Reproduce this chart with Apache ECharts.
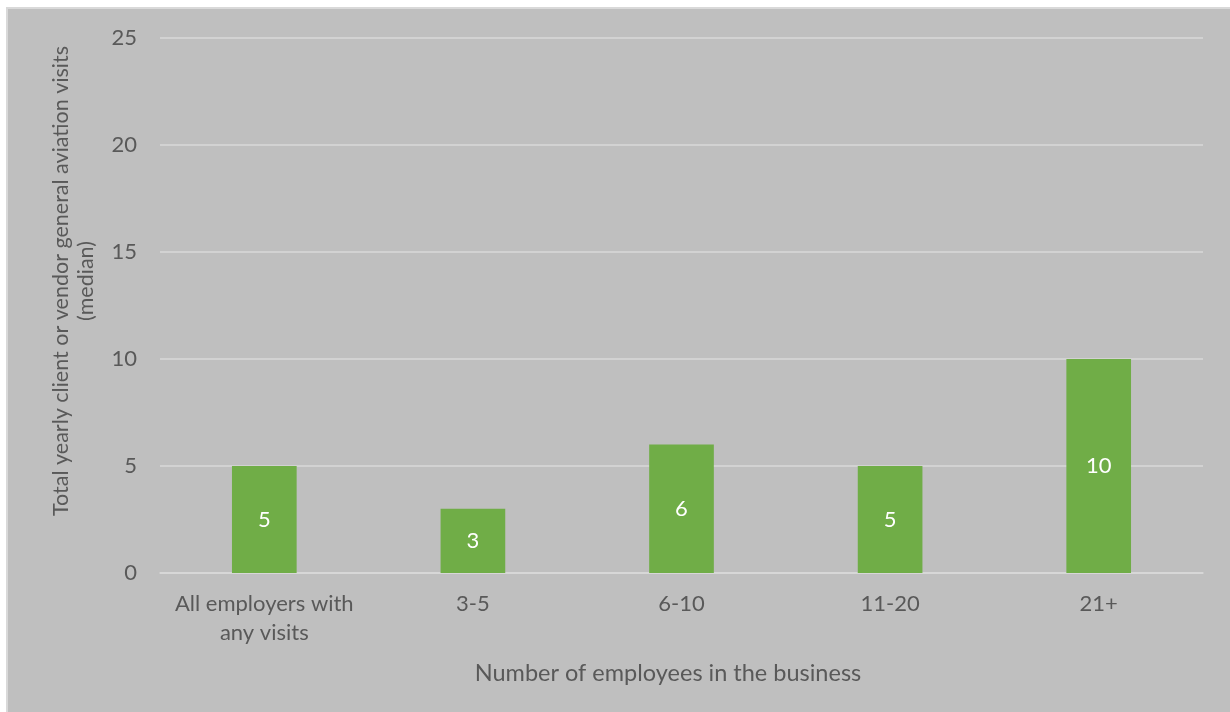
<!DOCTYPE html>
<html>
<head>
<meta charset="utf-8">
<script src="https://cdn.jsdelivr.net/npm/echarts@6/dist/echarts.min.js"></script>
<style>
  html, body { margin: 0; padding: 0; background: #ffffff; width: 1230px; height: 712px; overflow: hidden; }
  #panel { position: absolute; left: 6px; top: 7px; width: 1224px; height: 705px;
           background: #bfbfbf; border-left: 2px solid #d9d9d9; border-top: 2px solid #d9d9d9; }
  #chart { position: absolute; left: 0; top: 0; width: 1222px; height: 703px; }
</style>
</head>
<body>
<div id="panel"><div id="chart"></div></div>
<script>
// Median yearly client/vendor general aviation visits by business size
const categories = ['All employers with\nany visits', '3-5', '6-10', '11-20', '21+'];
const medianVisits = [5, 3, 6, 5, 10];
const yTicks = [0, 5, 10, 15, 20, 25];

const yTitle = 'Total yearly client or vendor general aviation visits\n(median)';
const xTitle = 'Number of employees in the business';

const textColor = '#595959';
const fontFamily = 'Lato, "Open Sans", sans-serif';

const chart = echarts.init(document.getElementById('chart'), null, { renderer: 'canvas' });
chart.setOption({
  backgroundColor: '#bfbfbf',
  animation: false,
  grid: { left: 152, right: 27, top: 29, bottom: 139, containLabel: false },
  xAxis: {
    type: 'category',
    data: categories,
    axisLine: { show: true, lineStyle: { color: '#d9d9d9', width: 1.5 } },
    axisTick: { show: false },
    axisLabel: { color: textColor, fontFamily, fontSize: 22, lineHeight: 29, margin: 16, interval: 0 }
  },
  yAxis: {
    type: 'value',
    min: yTicks[0],
    max: yTicks[yTicks.length - 1],
    interval: 5,
    axisLine: { show: false },
    axisTick: { show: false },
    axisLabel: { color: textColor, fontFamily, fontSize: 22, margin: 23 },
    splitLine: { lineStyle: { color: '#d9d9d9', width: 1.5 } }
  },
  series: [{
    type: 'bar',
    data: medianVisits,
    barWidth: '31%',
    itemStyle: { color: '#70ad47' },
    label: { show: true, position: 'inside', color: '#ffffff', fontFamily, fontSize: 22 }
  }],
  graphic: [
    {
      type: 'text', x: 66, y: 272, rotation: Math.PI / 2,
      style: { text: yTitle, fill: textColor, font: '21.5px ' + fontFamily, align: 'center', verticalAlign: 'middle', lineHeight: 25 }
    },
    {
      type: 'text', x: 660, y: 664,
      style: { text: xTitle, fill: textColor, font: '23.5px ' + fontFamily, align: 'center', verticalAlign: 'middle' }
    }
  ]
});
</script>
</body>
</html>
